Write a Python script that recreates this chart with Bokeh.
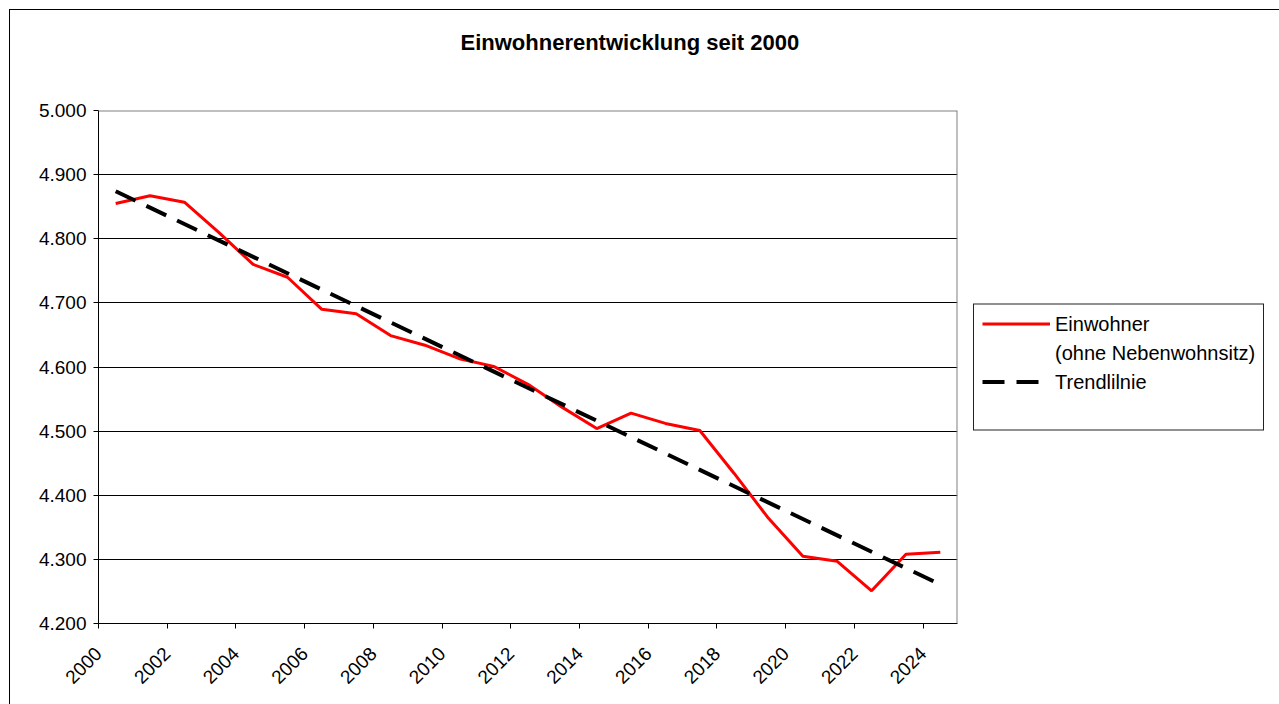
import math
import numpy as np
from bokeh.plotting import figure
from bokeh.models import (Legend, LegendItem, FixedTicker, Span, Range1d, Title)
from bokeh.embed import file_html
from bokeh.resources import INLINE

# ---- data ----
title_text = "Einwohnerentwicklung seit 2000"
years = list(range(2000, 2025))
einwohner = [4855, 4867, 4857, 4810, 4760, 4740, 4690, 4683, 4649, 4634,
             4613, 4601, 4573, 4537, 4504, 4528, 4512, 4501, 4434, 4364,
             4305, 4297, 4251, 4308, 4311]
x_ticks = list(range(2000, 2025, 2))
x_tick_labels = [str(t) for t in x_ticks]
y_ticks = [4200, 4300, 4400, 4500, 4600, 4700, 4800, 4900, 5000]
y_tick_labels = ["4.200", "4.300", "4.400", "4.500", "4.600", "4.700", "4.800", "4.900", "5.000"]
series_label_1 = "Einwohner"
series_label_2 = "(ohne Nebenwohnsitz)"
trend_label = "Trendlilnie"

FONT = "Liberation Sans"

# category centres
xc = [y + 0.5 for y in years]
# linear trend line (least squares of the series)
k, d = np.polyfit(np.array(xc), np.array(einwohner, dtype=float), 1)
trend_x = [xc[0], xc[-1]]
trend_y = [k * trend_x[0] + d, k * trend_x[1] + d]

p = figure(frame_width=859, frame_height=513,
           min_border_left=88, min_border_right=317,
           min_border_top=100, min_border_bottom=90,
           x_range=Range1d(2000, 2025), y_range=Range1d(4200, 5000),
           output_backend="svg", toolbar_location=None)
p.styles = {"border": "1px solid #000000", "margin": "9px 0px 0px 9px"}
p.outline_line_color = None
p.background_fill_color = "white"
p.border_fill_color = "white"

# visible title (outermost)
p.title.text = title_text
p.title.align = "left"
p.title.vertical_align = "top"
p.title.offset = 362
p.title.standoff = 10
p.title.text_font = FONT
p.title.text_font_size = "22px"
p.title.text_font_style = "bold"
p.title.text_color = "black"
# blank spacer between title and plot area
p.add_layout(Title(text=" ", text_font_size="10px", standoff=36), "above")

# grid
p.xgrid.grid_line_color = None
p.ygrid.ticker = FixedTicker(ticks=y_ticks)
p.ygrid.grid_line_color = "black"
p.ygrid.grid_line_width = 1

# frame top / right edge in grey
p.add_layout(Span(location=5000, dimension="width", line_color="#808080", line_width=2))
p.add_layout(Span(location=2025, dimension="height", line_color="#808080", line_width=2))

# axes
p.xaxis.ticker = FixedTicker(ticks=x_ticks)
p.xaxis.major_label_overrides = {t: l for t, l in zip(x_ticks, x_tick_labels)}
p.xaxis.major_label_orientation = math.pi / 4
p.yaxis.ticker = FixedTicker(ticks=y_ticks)
p.yaxis.major_label_overrides = {t: l for t, l in zip(y_ticks, y_tick_labels)}
for ax in (p.xaxis[0], p.yaxis[0]):
    ax.axis_line_color = "black"
    ax.axis_line_width = 1
    ax.major_tick_line_color = "black"
    ax.major_tick_out = 5
    ax.major_tick_in = 0
    ax.minor_tick_line_color = None
    ax.major_label_text_font = FONT
    ax.major_label_text_font_size = "19px"
    ax.major_label_text_color = "black"
p.yaxis.major_label_standoff = 7
p.xaxis.major_label_standoff = 22

# series
r_red = p.line(xc, einwohner, line_color="#FF0000", line_width=3)
r_trend = p.line(trend_x, trend_y, line_color="black", line_width=4,
                 line_dash="22 12")
r_blank = p.line([2000.5], [4200], line_alpha=0)

legend = Legend(items=[
    LegendItem(label=series_label_1, renderers=[r_red]),
    LegendItem(label=series_label_2, renderers=[r_blank]),
    LegendItem(label=trend_label, renderers=[r_trend]),
    LegendItem(label=" ", renderers=[r_blank]),
], location="left", orientation="vertical")
legend.label_text_font = FONT
legend.label_text_font_size = "20px"
legend.label_text_color = "black"
legend.glyph_width = 68
legend.glyph_height = 22
legend.label_height = 22
legend.label_standoff = 5
legend.spacing = 6
legend.padding = 8
legend.margin = 16
legend.border_line_color = "#222222"
legend.border_line_alpha = 1.0
legend.border_line_width = 1
legend.background_fill_color = "white"
p.add_layout(legend, "right")

open("out.html", "w").write(file_html(p, INLINE))
